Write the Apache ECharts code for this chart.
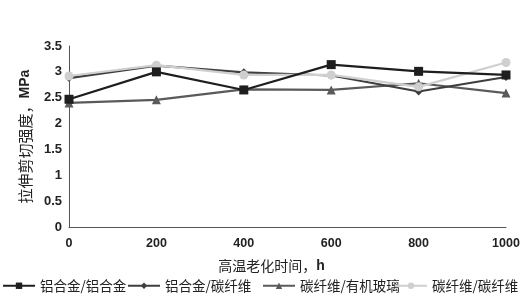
<!DOCTYPE html>
<html><head><meta charset="utf-8">
<script src="https://cdn.jsdelivr.net/npm/echarts@6/dist/echarts.min.js"></script>
<style>html,body{margin:0;padding:0;background:#fff}#c{width:524px;height:303px}</style>
</head><body><div id="c"></div>
<script>
const hours = [0, 200, 400, 600, 800, 1000];
const seriesNames = ['铝合金/铝合金', '铝合金/碳纤维', '碳纤维/有机玻璃', '碳纤维/碳纤维'];
const alAl = [2.47, 3.0, 2.65, 3.14, 3.01, 2.94];
const alCf = [2.88, 3.12, 2.99, 2.93, 2.62, 2.9];
const cfPmma = [2.40, 2.46, 2.66, 2.65, 2.78, 2.59];
const cfCf = [2.92, 3.13, 2.94, 2.94, 2.71, 3.18];
const yTicks = [0, 0.5, 1, 1.5, 2, 2.5, 3, 3.5];

const colors = ['#1e1e1e', '#3e3e3e', '#5a5a5a', '#cfcfcf'];
const symbols = ['rect', 'diamond', 'triangle', 'circle'];
const sizes = [9, 8, 9, 9];
const dataSets = [alAl, alCf, cfPmma, cfCf];
const legendLefts = [2, 127, 262, 394];

const chart = echarts.init(document.getElementById('c'));
chart.setOption({
  animation: false,
  backgroundColor: '#fff',
  grid: {left: 69, right: 18, top: 46, bottom: 76},
  xAxis: {
    type: 'value', min: 0, max: 1000, interval: 200,
    name: '{a|高温老化时间，}{b|h}', nameLocation: 'middle', nameGap: 32,
    nameTextStyle: {fontFamily: 'Noto Sans CJK SC', fontSize: 14, color: '#222', padding: [0, 32, 0, 0],
      rich: {a: {fontFamily: 'Noto Sans CJK SC', fontSize: 14, color: '#222'},
             b: {fontFamily: 'Liberation Sans', fontWeight: 'bold', fontSize: 14, color: '#222'}}},
    axisLine: {lineStyle: {color: '#555', width: 1}},
    axisTick: {show: false},
    splitLine: {show: false},
    axisLabel: {fontFamily: 'Liberation Sans', fontWeight: 'bold', fontSize: 12.5, color: '#222', margin: 10,
      formatter: v => String(v)}
  },
  yAxis: {
    type: 'value', min: 0, max: 3.5, interval: 0.5,
    name: '{a|拉伸剪切强度，}{b|MPa}', nameLocation: 'middle', nameGap: 31,
    nameTextStyle: {fontFamily: 'Noto Sans CJK SC', fontSize: 15, color: '#222',
      rich: {a: {fontFamily: 'Noto Sans CJK SC', fontSize: 15, color: '#222'},
             b: {fontFamily: 'Liberation Sans', fontWeight: 'bold', fontSize: 14, color: '#222'}}},
    axisLine: {show: true, lineStyle: {color: '#555', width: 1}},
    axisTick: {show: false},
    splitLine: {show: false},
    axisLabel: {fontFamily: 'Liberation Sans', fontWeight: 'bold', fontSize: 13, color: '#222', margin: 7,
      formatter: v => yTicks.includes(v) ? String(v) : ''}
  },
  legend: seriesNames.map((n, i) => ({
    top: 279, left: legendLefts[i], padding: 0, itemWidth: 32, itemHeight: 8, itemGap: 0,
    textStyle: {fontFamily: 'Noto Sans CJK SC', fontSize: 13.5, color: '#222'},
    data: [n]
  })),
  series: seriesNames.map((n, i) => ({
    name: n, type: 'line',
    data: hours.map((h, j) => [h, dataSets[i][j]]),
    symbol: symbols[i], symbolSize: sizes[i], showSymbol: true,
    itemStyle: {color: colors[i]},
    lineStyle: {color: colors[i], width: 2.2},
    z: [5, 3, 2, 4][i]
  }))
});
</script></body></html>
